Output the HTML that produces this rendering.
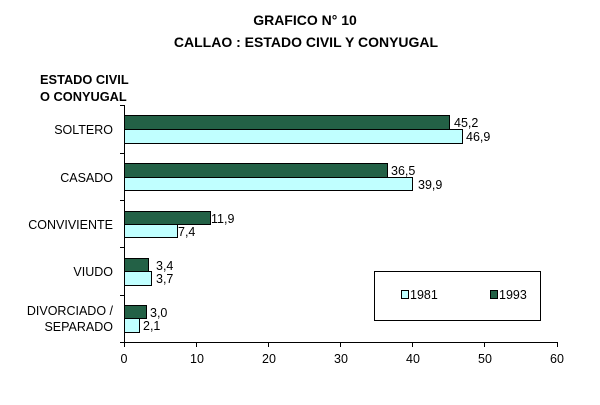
<!DOCTYPE html><html><head><style>body{margin:0;background:#fff}svg text{font-family:"Liberation Sans",Arial,sans-serif;font-size:12.5px}</style></head><body>
<svg width="600" height="400" xmlns="http://www.w3.org/2000/svg">
<rect width="600" height="400" fill="#fff"/>
<text x="305" y="25" text-anchor="middle" font-weight="bold" style="font-size:14px">GRAFICO N° 10</text>
<text x="306" y="47" text-anchor="middle" font-weight="bold" style="font-size:14px">CALLAO : ESTADO CIVIL Y CONYUGAL</text>
<text x="40" y="84" font-weight="bold" style="font-size:12.8px">ESTADO CIVIL</text>
<text x="40" y="101" font-weight="bold" style="font-size:12.8px">O CONYUGAL</text>
<g stroke="#000" stroke-width="1">
<line x1="124.5" y1="105" x2="124.5" y2="342"/>
<line x1="124" y1="342.5" x2="558" y2="342.5"/>
<line x1="120" y1="105.5" x2="124" y2="105.5"/><line x1="120" y1="153.5" x2="124" y2="153.5"/><line x1="120" y1="200.5" x2="124" y2="200.5"/><line x1="120" y1="247.5" x2="124" y2="247.5"/><line x1="120" y1="295.5" x2="124" y2="295.5"/><line x1="120" y1="342.5" x2="124" y2="342.5"/>
<line x1="124.5" y1="342" x2="124.5" y2="347"/><line x1="196.5" y1="342" x2="196.5" y2="347"/><line x1="268.5" y1="342" x2="268.5" y2="347"/><line x1="340.5" y1="342" x2="340.5" y2="347"/><line x1="412.5" y1="342" x2="412.5" y2="347"/><line x1="484.5" y1="342" x2="484.5" y2="347"/><line x1="557.5" y1="342" x2="557.5" y2="347"/>
<rect x="124.5" y="115.5" width="325" height="14" fill="#236146"/><rect x="124.5" y="129.5" width="338" height="14" fill="#c0ffff"/>
<rect x="124.5" y="163.5" width="263" height="14" fill="#236146"/><rect x="124.5" y="177.5" width="288" height="13" fill="#c0ffff"/>
<rect x="124.5" y="211.5" width="86" height="13" fill="#236146"/><rect x="124.5" y="224.5" width="53" height="13" fill="#c0ffff"/>
<rect x="124.5" y="258.5" width="24" height="13" fill="#236146"/><rect x="124.5" y="271.5" width="27" height="14" fill="#c0ffff"/>
<rect x="124.5" y="305.5" width="22" height="13" fill="#236146"/><rect x="124.5" y="318.5" width="15" height="14" fill="#c0ffff"/>
<rect x="374.5" y="271.5" width="166" height="49" fill="#fff"/>
<rect x="401.5" y="290.5" width="7" height="8" fill="#c0ffff"/><rect x="490.5" y="290.5" width="7" height="8" fill="#236146"/>
</g>
<g text-anchor="end">
<text x="113" y="134">SOLTERO</text><text x="113" y="182">CASADO</text><text x="113" y="229">CONVIVIENTE</text><text x="113" y="276">VIUDO</text><text x="113" y="315">DIVORCIADO /</text><text x="113" y="331">SEPARADO</text>
</g>
<text x="454" y="127">45,2</text><text x="466" y="141">46,9</text>
<text x="391" y="175">36,5</text><text x="418" y="189">39,9</text>
<text x="211" y="223">11,9</text><text x="178" y="236">7,4</text>
<text x="156" y="270">3,4</text><text x="156" y="283">3,7</text>
<text x="150" y="317">3,0</text><text x="143" y="330">2,1</text>
<g text-anchor="middle"><text x="124" y="363">0</text><text x="197" y="363">10</text><text x="269" y="363">20</text><text x="341" y="363">30</text><text x="413" y="363">40</text><text x="485" y="363">50</text><text x="557" y="363">60</text></g>
<text x="410" y="299">1981</text><text x="499" y="299">1993</text>
</svg></body></html>
